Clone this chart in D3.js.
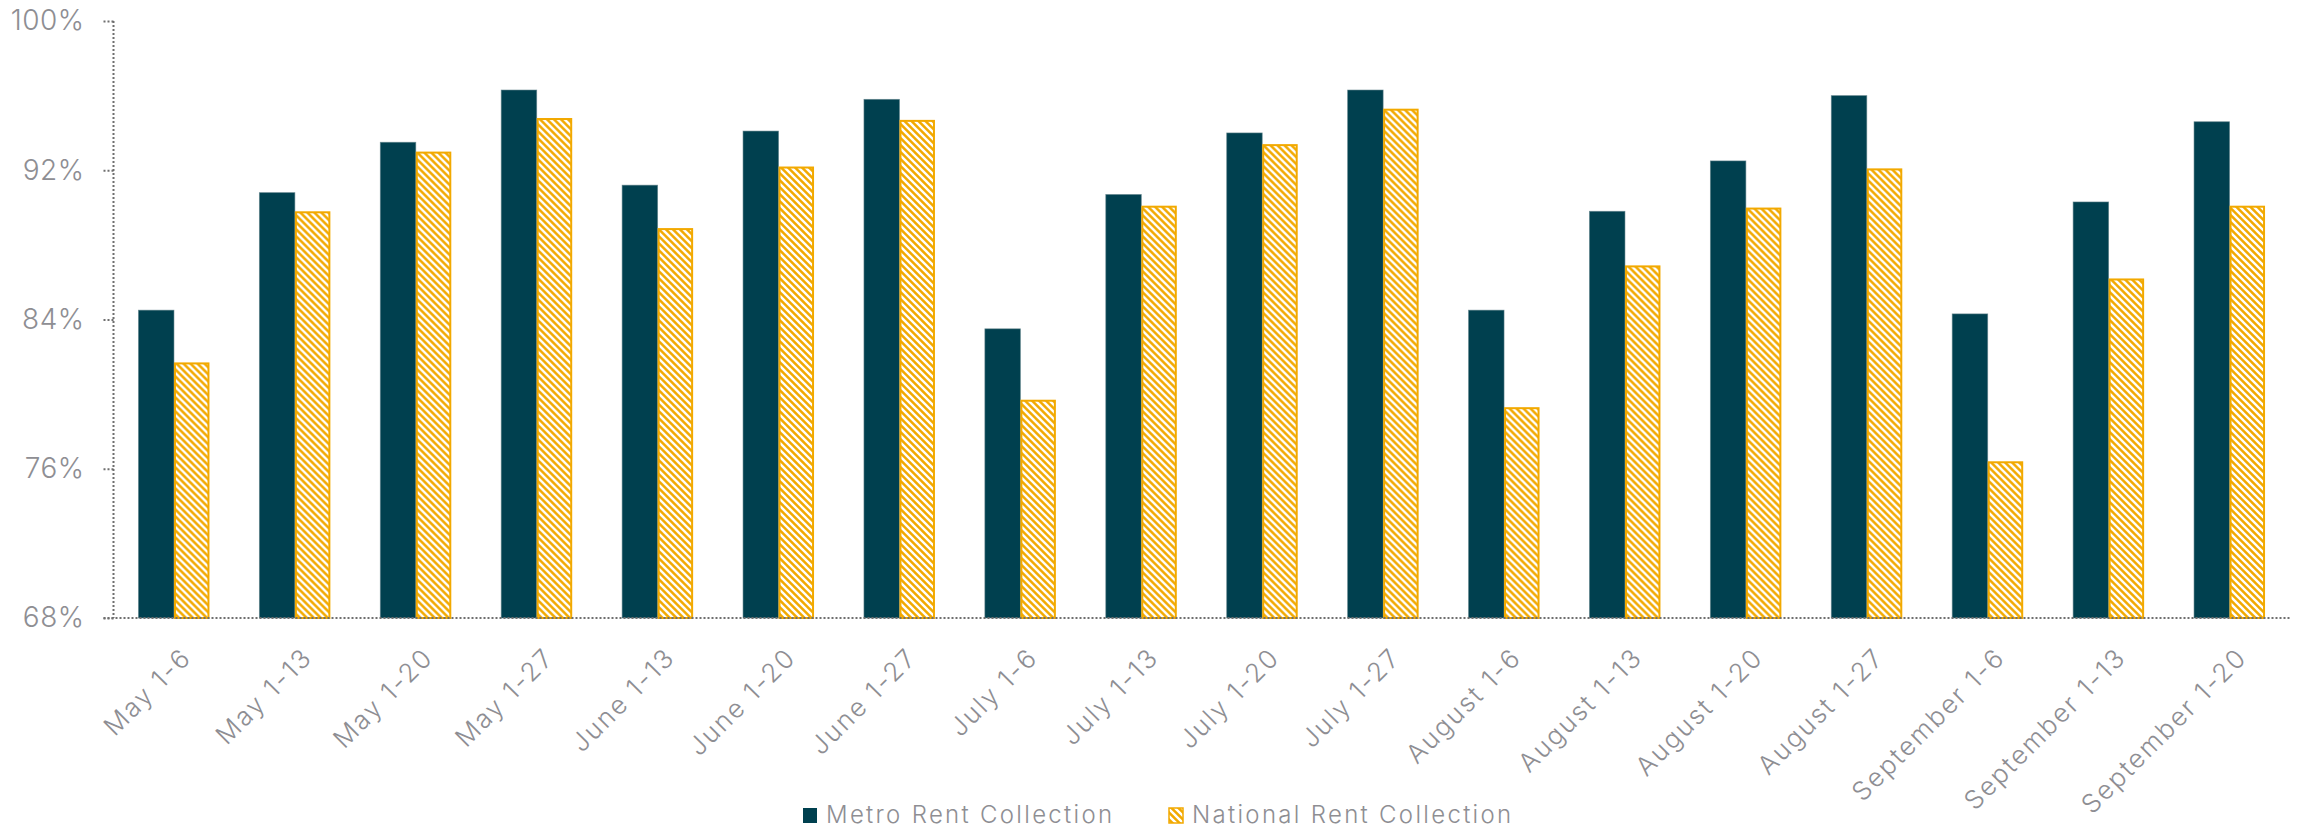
<!DOCTYPE html>
<html>
<head>
<meta charset="utf-8">
<script src="https://cdn.jsdelivr.net/npm/d3@7"></script>
<style>
  html, body { margin: 0; padding: 0; background: #ffffff; }
  svg { display: block; }
  text { font-family: "Inter", "Lato", sans-serif; font-weight: 300; fill: #8e8e93; }
</style>
</head>
<body>
<svg id="chart" width="2297" height="830"></svg>
<script>
const categories = ["May 1-6","May 1-13","May 1-20","May 1-27","June 1-13","June 1-20","June 1-27",
  "July 1-6","July 1-13","July 1-20","July 1-27","August 1-6","August 1-13","August 1-20","August 1-27",
  "September 1-6","September 1-13","September 1-20"];
const metroValues = [84.5, 90.8, 93.5, 96.3, 91.2, 94.1, 95.8, 83.5, 90.7, 94.0, 96.3, 84.5, 89.8, 92.5, 96.0, 84.3, 90.3, 94.6];
const nationalValues = [81.7, 89.8, 93.0, 94.8, 88.9, 92.2, 94.7, 79.7, 90.1, 93.4, 95.3, 79.3, 86.9, 90.0, 92.1, 76.4, 86.2, 90.1];
const seriesNames = ["Metro Rent Collection", "National Rent Collection"];
const yTicks = [68, 76, 84, 92, 100];

const metroColor = "#00404f";
const orange = "#f2a900";
const axisColor = "#6f6f6f";
const textColor = "#8e8e93";

const svg = d3.select("#chart");
const defs = svg.append("defs");
const pat = defs.append("pattern")
  .attr("id", "hatch")
  .attr("patternUnits", "userSpaceOnUse")
  .attr("width", 7).attr("height", 7);
pat.append("rect").attr("width", 7).attr("height", 7).attr("fill", orange);
pat.append("path")
  .attr("d", "M-1,-1 L8,8 M-8,-1 L1,8 M6,-1 L15,8")
  .attr("stroke", "#ffffff").attr("stroke-width", 2.4);

const plotLeft = 113.5, plotRight = 2290, plotTop = 21, plotBottom = 618;

const x0 = d3.scaleBand().domain(categories).range([plotLeft, plotRight]).padding(0);
const barW = 35.5;
const x1 = d3.scaleBand().domain(seriesNames).range([0, barW * 2]).padding(0);
const y = d3.scaleLinear().domain([68, 100]).range([plotBottom, plotTop]);

// y axis
const yAxis = d3.axisLeft(y).tickValues(yTicks).tickSize(10).tickPadding(19)
  .tickFormat(d => d + "%");
const gy = svg.append("g").attr("transform", `translate(${plotLeft},0)`).call(yAxis);
gy.select(".domain").attr("stroke", axisColor).attr("stroke-width", 2).attr("stroke-dasharray", "2,2")
  .attr("d", `M0,${plotTop}V${plotBottom}`);
gy.selectAll(".tick line").attr("stroke", axisColor).attr("stroke-width", 2).attr("stroke-dasharray", "2,2");
gy.selectAll(".tick text").style("font-size", "28px").style("font-family", "Inter, Lato, sans-serif")
  .style("font-weight", 300).style("letter-spacing", "0.5px").attr("fill", textColor);

// bars
const groups = svg.append("g").selectAll("g").data(categories).join("g")
  .attr("transform", d => `translate(${x0(d) + (x0.bandwidth() - barW * 2) / 2},0)`);

groups.append("rect")
  .attr("x", x1(seriesNames[0]))
  .attr("y", (d, i) => y(metroValues[i]))
  .attr("width", x1.bandwidth())
  .attr("height", (d, i) => y(68) - y(metroValues[i]))
  .attr("fill", metroColor)
  .attr("stroke", "#5b7f88").attr("stroke-width", 0.8).attr("stroke-opacity", 0.7);

groups.append("rect")
  .attr("x", x1(seriesNames[1]) + 1)
  .attr("y", (d, i) => y(nationalValues[i]) + 1)
  .attr("width", x1.bandwidth() - 2)
  .attr("height", (d, i) => y(68) - y(nationalValues[i]) - 1)
  .attr("fill", "url(#hatch)")
  .attr("stroke", orange).attr("stroke-width", 2);

// x axis
const xAxis = d3.axisBottom(x0).tickSize(0).tickPadding(0);
const gx = svg.append("g").attr("transform", `translate(0,${plotBottom})`).call(xAxis);
gx.select(".domain").attr("stroke", axisColor).attr("stroke-width", 2).attr("stroke-dasharray", "2,2")
  .attr("d", `M${plotLeft - 10},0H${plotRight}`);
gx.selectAll(".tick text")
  .attr("text-anchor", "end")
  .attr("dy", 0)
  .attr("transform", "translate(19,41) rotate(-45)")
  .style("font-size", "26px").style("font-family", "Inter, Lato, sans-serif")
  .style("font-weight", 300).style("letter-spacing", "2px").attr("fill", textColor);

// legend
const legend = svg.append("g").attr("transform", "translate(0,823)");
const legItems = [
  { name: seriesNames[0], x: 803, fill: metroColor, stroke: "none" },
  { name: seriesNames[1], x: 1169, fill: "url(#hatch)", stroke: orange }
];
const li = legend.selectAll("g").data(legItems).join("g").attr("transform", d => `translate(${d.x},0)`);
li.append("rect").attr("x", 0).attr("y", -15).attr("width", 14).attr("height", 15)
  .attr("fill", d => d.fill).attr("stroke", d => d.stroke).attr("stroke-width", 1.5);
li.append("text").attr("x", 23).attr("y", 0)
  .style("font-size", "24px").style("letter-spacing", "2.3px").text(d => d.name);
</script>
</body>
</html>
